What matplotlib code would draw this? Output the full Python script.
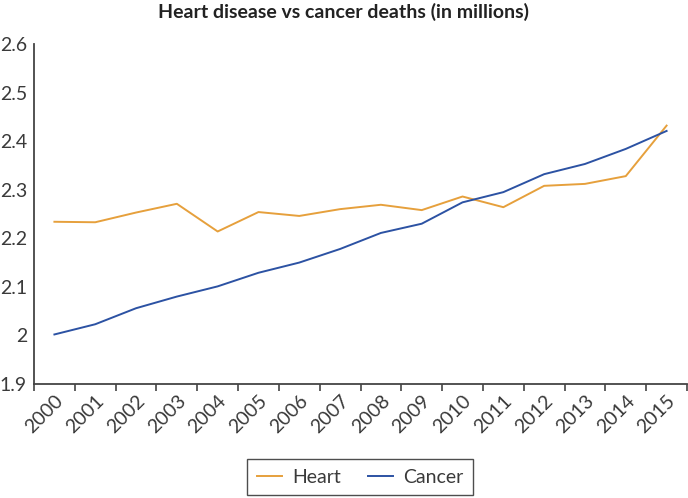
import matplotlib
matplotlib.use("Agg")
import matplotlib.pyplot as plt

years = [str(y) for y in range(2000, 2016)]
heart = [2.234, 2.233, 2.253, 2.271, 2.214, 2.254, 2.246, 2.260, 2.269, 2.258,
         2.286, 2.264, 2.308, 2.312, 2.328, 2.432]
cancer = [2.002, 2.023, 2.056, 2.080, 2.101, 2.129, 2.150, 2.178, 2.211, 2.230,
          2.274, 2.295, 2.332, 2.353, 2.384, 2.421]
yticks = [1.9, 2.0, 2.1, 2.2, 2.3, 2.4, 2.5, 2.6]
ytick_labels = ["1.9", "2", "2.1", "2.2", "2.3", "2.4", "2.5", "2.6"]

plt.rcParams['font.family'] = ['Lato', 'DejaVu Sans']

fig = plt.figure(figsize=(6.88, 4.98), dpi=100)
ax = fig.add_axes([34/688, 1-384/498, 653/688, 340/498])

x = list(range(len(years)))
ax.plot(x, heart, color='#E6A03C', lw=1.4, label='Heart')
ax.plot(x, cancer, color='#2C52A3', lw=1.4, label='Cancer')

ax.set_xlim(-0.5, len(years) - 0.5)
ax.set_ylim(1.9, 2.6)
ax.set_yticks(yticks)
ax.set_yticklabels(ytick_labels)
ax.tick_params(axis='y', length=0, labelsize=14, colors='#3a3a3a', pad=5)

ax.set_xticks([i - 0.5 for i in range(len(years) + 1)], minor=False)
ax.set_xticklabels([''] * (len(years) + 1))
ax.tick_params(axis='x', which='major', length=5, width=1.2, color='#444444', direction='out')
ax.set_xticks(x, minor=True)
ax.set_xticklabels(years, minor=True, rotation=45, ha='right', rotation_mode='anchor')
ax.tick_params(axis='x', which='minor', length=0, labelsize=14, colors='#3a3a3a', pad=6)

for s in ['top', 'right']:
    ax.spines[s].set_visible(False)
for s in ['left', 'bottom']:
    ax.spines[s].set_color('#444444')
    ax.spines[s].set_linewidth(1.3)

fig.text(0.5, 1 - 12/498, 'Heart disease vs cancer deaths (in millions)', ha='center', va='center',
         fontsize=14, fontweight='bold', color='#222222')

leg = fig.legend(loc='center', bbox_to_anchor=(360/688, 1 - 477/498), ncol=2,
                 prop={'size': 14},
                 frameon=True, fancybox=False, edgecolor='#222222', handlelength=1.3,
                 columnspacing=1.4, borderpad=0.5, handletextpad=0.5)
leg.get_frame().set_linewidth(1.0)
for t in leg.get_texts():
    t.set_color('#3a3a3a')

fig.savefig('out.png', dpi=100)
